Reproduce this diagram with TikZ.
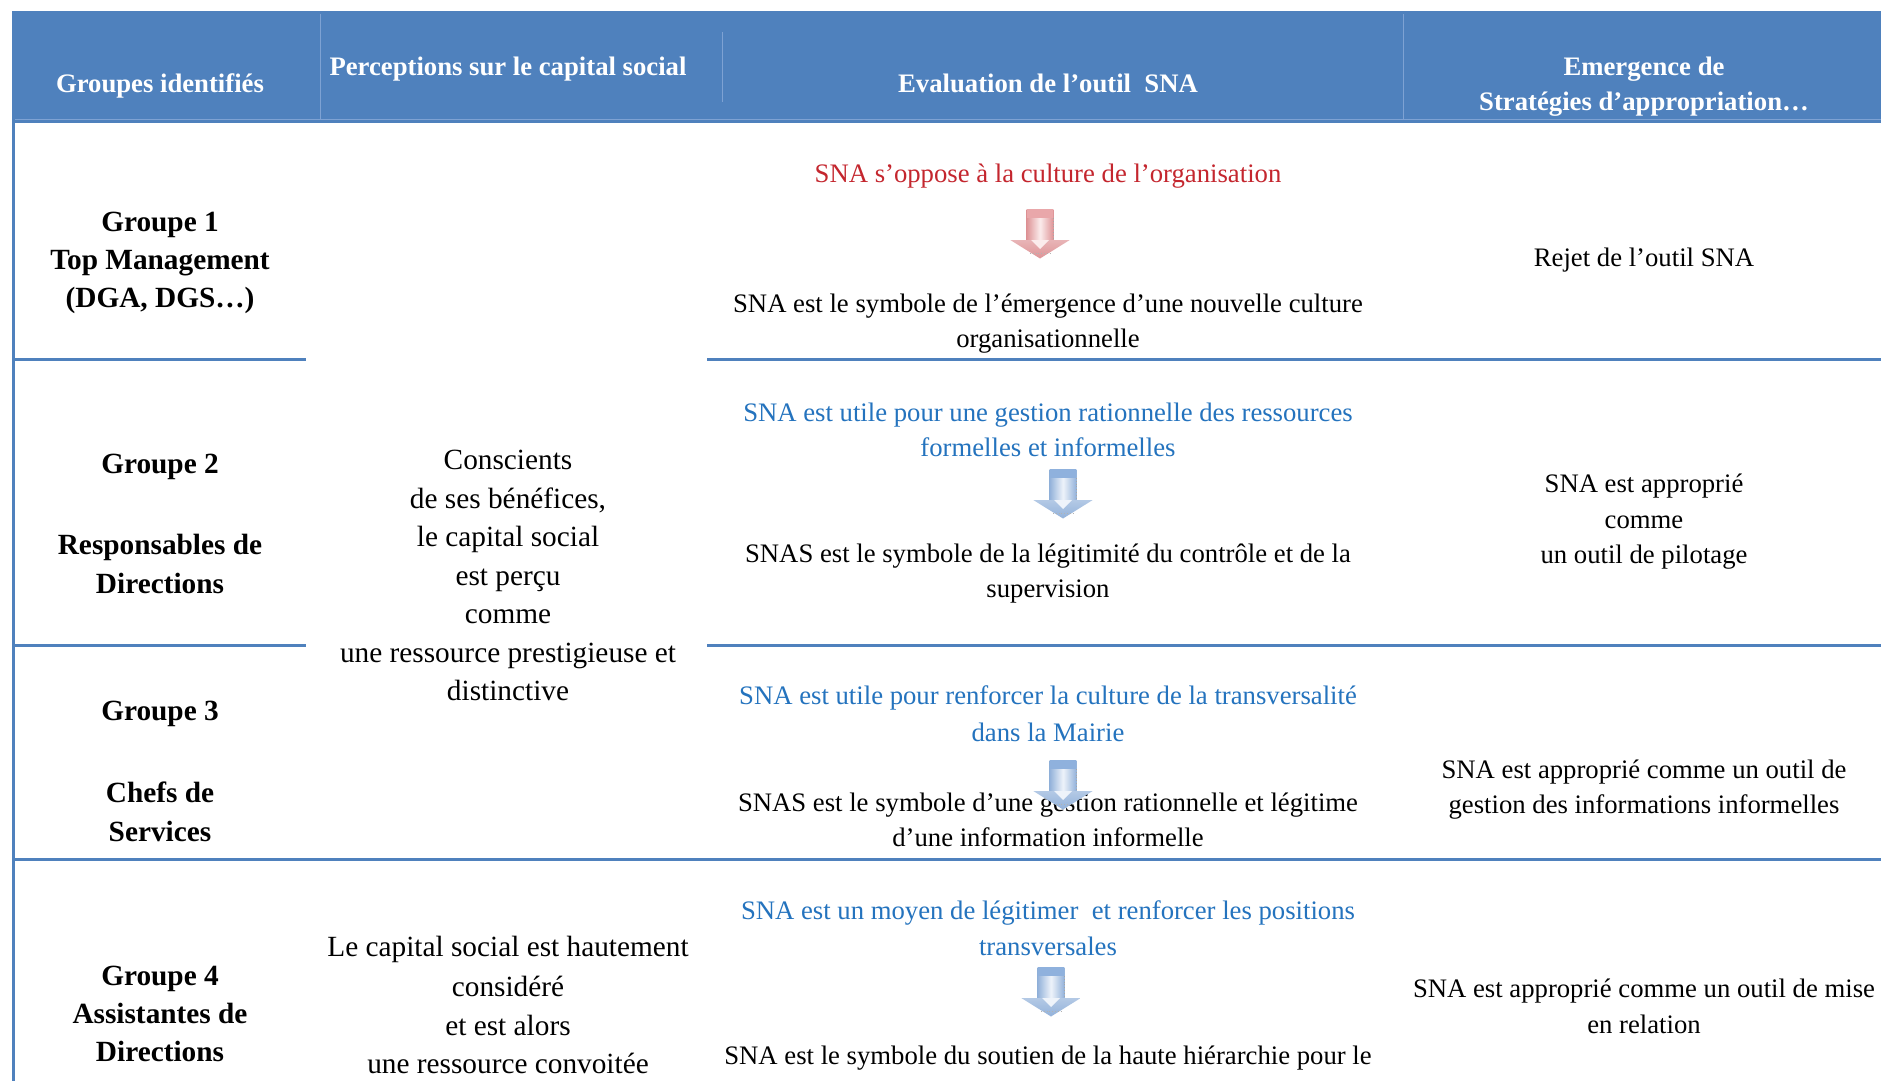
\documentclass[tikz,border=0pt]{standalone}
\usepackage{fontspec}
\setmainfont{Liberation Serif}
\definecolor{hdrblue}{HTML}{4F81BD}
\definecolor{seplight}{HTML}{7EA2D3}
\definecolor{txtred}{HTML}{C4262E}
\definecolor{txtblue}{HTML}{2473BE}
\definecolor{redEdge}{HTML}{DE9497}
\definecolor{redLight}{HTML}{FBECEC}
\definecolor{redBand}{HTML}{E9A7AA}
\definecolor{blueEdge}{HTML}{93B2DA}
\definecolor{blueLight}{HTML}{EEF3FA}
\definecolor{blueBand}{HTML}{8FB1DD}
\tikzset{
  hdr/.style={anchor=base,inner sep=0pt,yshift=-2.2pt,text=white,font=\fontsize{26.7}{36}\selectfont\bfseries},
  grp/.style={anchor=base,inner sep=0pt,yshift=-1.2pt,font=\fontsize{29.3}{38}\selectfont\bfseries},
  perc/.style={anchor=base,inner sep=0pt,yshift=-1.2pt,font=\fontsize{29.3}{38}\selectfont},
  body/.style={anchor=base,inner sep=0pt,yshift=-1.2pt,font=\fontsize{26.7}{36}\selectfont},
  rowline/.style={draw=hdrblue,line width=3pt},
  sepline/.style={draw=seplight,line width=1pt}
}
\newcommand\downarrowbox[5]{%
  \begin{scope}[shift={(#1,#2)}]
    \shade[left color=#3,right color=#3,middle color=#4] (-13.3,0) rectangle (13.3,31);
    \fill[#5] (-13.3,0) rectangle (13.3,9);
    \shade[top color=#3!70!white,bottom color=#3] (-29.7,31) -- (29.7,31) -- (0,49.5) -- cycle;
    \fill[#4] (-9,31) -- (9,31) -- (0,40) -- cycle;
    \draw[gray!70,line width=0.8pt,dotted] (13.3,9) -- (13.3,31);
    \draw[gray!60,line width=0.8pt,dotted] (-10,44) -- (10,44);
  \end{scope}}
\begin{document}
\begin{tikzpicture}[x=1pt,y=-1pt]
\useasboundingbox (0,0) rectangle (1881,1081);
\fill[white] (0,0) rectangle (1881,1081);
% header band
\fill[hdrblue] (12,11) rectangle (1881,122.7);
\draw[sepline] (320.5,14) -- (320.5,119);
\draw[sepline] (722.5,32) -- (722.5,102);
\draw[sepline] (1403.5,14) -- (1403.5,119);
\draw[sepline] (15,119.5) -- (1881,119.5);
% table rules
\coordinate (lt) at (13.5,122);
\coordinate (lb) at (13.5,1081);
\draw[rowline] (lt) -- (lb);
\draw[rowline] (12,359) -- (306,359);
\draw[rowline] (707,359) -- (1881,359);
\draw[rowline] (12,645) -- (306,645);
\draw[rowline] (707,645) -- (1881,645);
\draw[rowline] (12,859) -- (1881,859);
% header text
\node[hdr] (h1) at (160,90.7) {Groupes identifiés};
\node[hdr] (h2) at (508,73.3) {Perceptions sur le capital social};
\node[hdr] (h3) at (1048,90.7) {Evaluation de l’outil\ \ SNA};
\node[hdr] (h4a) at (1644,73.3) {Emergence de};
\node[hdr] (h4b) at (1644,108.3) {Stratégies d’appropriation…};
% groups
\node[grp] (g1a) at (160,230) {Groupe 1};
\node[grp] (g1b) at (160,268.3) {Top Management};
\node[grp] (g1c) at (160,306.7) {(DGA, DGS…)};
\node[grp] (g2a) at (160,472.5) {Groupe 2};
\node[grp] (g2b) at (160,553.6) {Responsables de};
\node[grp] (g2c) at (160,592) {Directions};
\node[grp] (g3a) at (160,719.3) {Groupe 3};
\node[grp] (g3b) at (160,801.7) {Chefs de};
\node[grp] (g3c) at (160,840) {Services};
\node[grp] (g4a) at (160,984) {Groupe 4};
\node[grp] (g4b) at (160,1022.3) {Assistantes de};
\node[grp] (g4c) at (160,1060.7) {Directions};
% perceptions
\node[perc] (p1) at (508,468.6) {Conscients};
\node[perc] (p2) at (508,507) {de ses bénéfices,};
\node[perc] (p3) at (508,545.4) {le capital social};
\node[perc] (p4) at (508,583.8) {est perçu};
\node[perc] (p5) at (508,622.2) {comme};
\node[perc] (p6) at (508,661.7) {une ressource prestigieuse et};
\node[perc] (p7) at (508,699) {distinctive};
\node[perc] (q1) at (508,955.7) {Le capital social est hautement};
\node[perc] (q2) at (508,995) {considéré};
\node[perc] (q3) at (508,1034) {et est alors};
\node[perc] (q4) at (508,1072.7) {une ressource convoitée};
% evaluation
\node[body,text=txtred] (e1a) at (1048,181.7) {SNA s’oppose à la culture de l’organisation};
\node[body] (e1b) at (1048,311.7) {SNA est le symbole de l’émergence d’une nouvelle culture};
\node[body] (e1c) at (1048,346.7) {organisationnelle};
\node[body,text=txtblue] (e2a) at (1048,420) {SNA est utile pour une gestion rationnelle des ressources};
\node[body,text=txtblue] (e2b) at (1048,455) {formelles et informelles};
\node[body] (e2c) at (1048,561.7) {SNAS est le symbole de la légitimité du contrôle et de la};
\node[body] (e2d) at (1048,596.7) {supervision};
\node[body,text=txtblue] (e3a) at (1048,703.3) {SNA est utile pour renforcer la culture de la transversalité};
\node[body,text=txtblue] (e3b) at (1048,740) {dans la Mairie};
\node[body] (e3c) at (1048,810) {SNAS est le symbole d’une gestion rationnelle et légitime};
\node[body] (e3d) at (1048,845) {d’une information informelle};
\node[body,text=txtblue] (e4a) at (1048,918.5) {SNA est un moyen de légitimer\ \ et renforcer les positions};
\node[body,text=txtblue] (e4b) at (1048,954) {transversales};
\node[body] (e4c) at (1048,1063) {SNA est le symbole du soutien de la haute hiérarchie pour le};
% strategies
\node[body] (s1) at (1644,265) {Rejet de l’outil SNA};
\node[body] (s2a) at (1644,491) {SNA est approprié};
\node[body] (s2b) at (1644,527) {comme};
\node[body] (s2c) at (1644,562) {un outil de pilotage};
\node[body] (s3a) at (1644,777) {SNA est approprié comme un outil de};
\node[body] (s3b) at (1644,812) {gestion des informations informelles};
\node[body] (s4a) at (1644,996) {SNA est approprié comme un outil de mise};
\node[body] (s4b) at (1644,1032) {en relation};
% arrows
\downarrowbox{1040}{209}{redEdge}{redLight}{redBand}
\downarrowbox{1063}{469}{blueEdge}{blueLight}{blueBand}
\downarrowbox{1063}{760}{blueEdge}{blueLight}{blueBand}
\downarrowbox{1051}{967}{blueEdge}{blueLight}{blueBand}
\end{tikzpicture}
\end{document}
